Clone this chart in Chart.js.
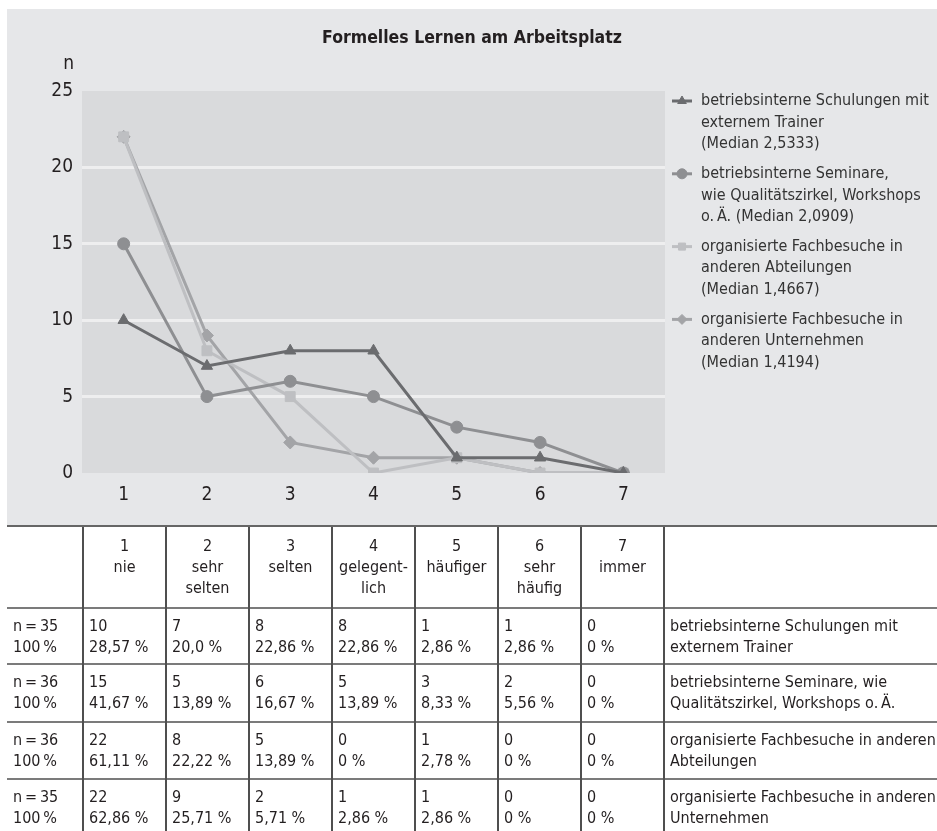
<!DOCTYPE html>
<html lang="de">
<head>
<meta charset="utf-8">
<title>Formelles Lernen am Arbeitsplatz</title>
<script src="https://cdn.jsdelivr.net/npm/chart.js@4.4.1/dist/chart.umd.min.js"></script>
<style>
  html, body { margin: 0; padding: 0; background: #fff; width: 937px; height: 831px; overflow: hidden; }
  body { font-family: 'Liberation Sans Narrow', 'DejaVu Sans Condensed', Roboto, sans-serif; color: #231f20; }
  #chartBox { position: absolute; left: 7px; top: 9px; width: 930px; height: 517px; background: #e6e7e9; }
  #tbl { position: absolute; left: 7px; top: 525px; width: 957px; border-collapse: collapse; table-layout: fixed;
         font-size: 16px; line-height: 21px; white-space: nowrap; }
  #tbl td { padding: 6px 2px 0 5px; vertical-align: top; overflow: hidden;
            border-left: 2px solid #4f4f4f; border-top: 2px solid #7b7b7b; }
  #tbl td:first-child { border-left: none; padding-left: 6px; }
  #tbl tr.head td { text-align: center; padding: 8px 0 0 0; border-top: 2px solid #666; }
</style>
</head>
<body>
<div id="chartBox"><canvas id="chart"></canvas></div>
<table id="tbl"></table>
<script>
'use strict';

var FONT = "'Liberation Sans Narrow', 'DejaVu Sans Condensed', Roboto, sans-serif";

// chart data
var categories = ['1', '2', '3', '4', '5', '6', '7'];
var yTicks = [0, 5, 10, 15, 20, 25];
var schulungen = [10, 7, 8, 8, 1, 1, 0];
var seminare = [15, 5, 6, 5, 3, 2, 0];
var abteilungen = [22, 8, 5, 0, 1, 0, 0];
var unternehmen = [22, 9, 2, 1, 1, 0, 0];

var legendLines = [
    ['betriebsinterne Schulungen mit', 'externem Trainer', '(Median 2,5333)'],
    ['betriebsinterne Seminare,', 'wie Qualitätszirkel, Workshops', 'o.\u2009Ä. (Median 2,0909)'],
    ['organisierte Fachbesuche in', 'anderen Abteilungen', '(Median 1,4667)'],
    ['organisierte Fachbesuche in', 'anderen Unternehmen', '(Median 1,4194)']
];

// table data
var scaleWords = ['nie', 'sehr<br>selten', 'selten', 'gelegent-<br>lich', 'häufiger', 'sehr<br>häufig', 'immer'];
var totals = [35, 36, 36, 35];
var pctSchulungen = ['28,57 %', '20,0 %', '22,86 %', '22,86 %', '2,86 %', '2,86 %', '0 %'];
var pctSeminare = ['41,67 %', '13,89 %', '16,67 %', '13,89 %', '8,33 %', '5,56 %', '0 %'];
var pctAbteilungen = ['61,11 %', '22,22 %', '13,89 %', '0 %', '2,78 %', '0 %', '0 %'];
var pctUnternehmen = ['62,86 %', '25,71 %', '5,71 %', '2,86 %', '2,86 %', '0 %', '0 %'];
var rowLabels = [
    'betriebsinterne Schulungen mit<br>externem Trainer',
    'betriebsinterne Seminare, wie<br>Qualitätszirkel, Workshops o.\u2009Ä.',
    'organisierte Fachbesuche in anderen<br>Abteilungen',
    'organisierte Fachbesuche in anderen<br>Unternehmen'
];

function makeSet(label, data, color, style, radius) {
    return {
        label: label, data: data,
        borderColor: color, backgroundColor: color,
        borderWidth: 3, tension: 0,
        pointStyle: style, pointRadius: radius, pointHoverRadius: radius,
        pointBorderWidth: 1
    };
}

// grey plot area behind the grid
var plotBg = {
    id: 'plotBg',
    beforeDraw: function (chart) {
        var a = chart.chartArea, ctx = chart.ctx;
        ctx.save();
        ctx.fillStyle = '#d9dadc';
        ctx.fillRect(a.left, a.top, a.right - a.left, a.bottom - a.top);
        ctx.restore();
    }
};

// "n" above the y axis and the legend on the right
var sideLegend = {
    id: 'sideLegend',
    afterDraw: function (chart) {
        var ctx = chart.ctx, a = chart.chartArea;
        ctx.save();
        ctx.font = '19px ' + FONT;
        ctx.fillStyle = '#231f20';
        ctx.textAlign = 'right';
        ctx.textBaseline = 'middle';
        ctx.fillText('n', a.left - 8, 55);

        ctx.font = '16px ' + FONT;
        ctx.textAlign = 'left';
        chart.data.datasets.forEach(function (ds, i) {
            var y = 92 + i * 72.8;
            ctx.strokeStyle = ds.borderColor;
            ctx.fillStyle = ds.backgroundColor;
            ctx.lineWidth = 3;
            ctx.beginPath();
            ctx.moveTo(a.right + 7, y);
            ctx.lineTo(a.right + 27, y);
            ctx.stroke();
            ctx.lineWidth = 1;
            Chart.helpers.drawPoint(ctx, { pointStyle: ds.pointStyle, radius: 5, borderWidth: 1, rotation: 0 }, a.right + 17, y);
            ctx.fillStyle = '#333';
            legendLines[i].forEach(function (t, j) {
                ctx.fillText(t, a.right + 36, y + j * 21.6);
            });
        });
        ctx.restore();
    }
};

Chart.defaults.font.family = FONT;
Chart.defaults.color = '#231f20';

new Chart(document.getElementById('chart'), {
    type: 'line',
    data: {
        labels: categories,
        datasets: [
            makeSet('betriebsinterne Schulungen mit externem Trainer', schulungen, '#6b6c6f', 'triangle', 6.5),
            makeSet('betriebsinterne Seminare, wie Qualitätszirkel, Workshops o. Ä.', seminare, '#8e8f92', 'circle', 6),
            makeSet('organisierte Fachbesuche in anderen Abteilungen', abteilungen, '#bebfc2', 'rect', 7),
            makeSet('organisierte Fachbesuche in anderen Unternehmen', unternehmen, '#a3a4a7', 'rectRot', 6.5)
        ]
    },
    options: {
        responsive: true,
        maintainAspectRatio: false,
        animation: false,
        layout: { padding: 0 },
        plugins: {
            legend: { display: false },
            tooltip: { enabled: false },
            title: {
                display: true,
                text: 'Formelles Lernen am Arbeitsplatz',
                font: { size: 17.5, weight: 'bold' },
                color: '#231f20',
                padding: { top: 19, bottom: 42 }
            }
        },
        scales: {
            x: {
                offset: true,
                grid: { display: false },
                border: { display: false },
                ticks: { padding: 3, font: { size: 19 } },
                afterFit: function (s) { s.height = 53; }
            },
            y: {
                min: 0, max: 25,
                afterBuildTicks: function (s) { s.ticks = yTicks.map(function (v) { return { value: v }; }); },
                border: { display: false },
                grid: {
                    drawTicks: false,
                    lineWidth: 3,
                    color: function (c) { return (c.tick.value === 0 || c.tick.value === 25) ? 'rgba(0,0,0,0)' : '#eeeeef'; }
                },
                ticks: { padding: 9, font: { size: 19 } },
                afterFit: function (s) { s.width = 75; }
            },
            spacer: {
                position: 'right',
                display: true,
                grid: { display: false },
                border: { display: false },
                ticks: { display: false },
                afterFit: function (s) { s.width = 272; }
            }
        }
    },
    plugins: [plotBg, sideLegend]
});

// table below the chart
var pctRows = [pctSchulungen, pctSeminare, pctAbteilungen, pctUnternehmen];
var countRows = [schulungen, seminare, abteilungen, unternehmen];
var rowHeights = [56, 58, 57, 60];
var html = '<colgroup><col style="width:76px">';
categories.forEach(function () { html += '<col style="width:83px">'; });
html += '<col style="width:300px"></colgroup>';
html += '<tr class="head" style="height:82px"><td></td>';
categories.forEach(function (c, i) { html += '<td>' + c + '<br>' + scaleWords[i] + '</td>'; });
html += '<td></td></tr>';
countRows.forEach(function (row, r) {
    html += '<tr style="height:' + rowHeights[r] + 'px"><td>n\u2009=\u2009' + totals[r] + '<br>100\u2009%</td>';
    row.forEach(function (v, i) { html += '<td>' + v + '<br>' + pctRows[r][i] + '</td>'; });
    html += '<td>' + rowLabels[r] + '</td></tr>';
});
document.getElementById('tbl').innerHTML = html;
</script>
</body>
</html>
